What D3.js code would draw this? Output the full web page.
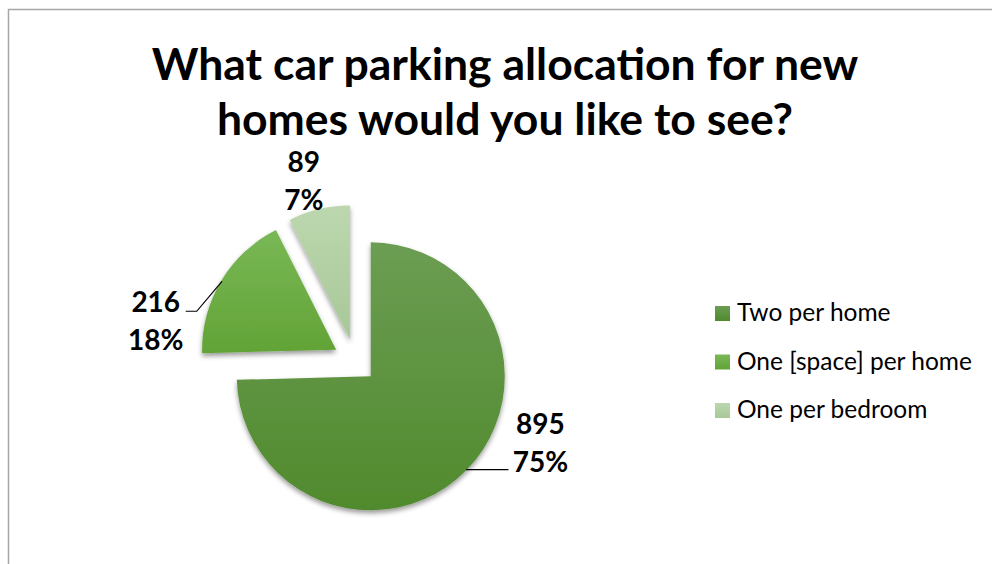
<!DOCTYPE html>
<html>
<head>
<meta charset="utf-8">
<script src="https://cdn.jsdelivr.net/npm/d3@7"></script>
<style>
  html, body { margin: 0; padding: 0; background: #fff; }
  svg { display: block; }
</style>
</head>
<body>
<svg id="chart" width="992" height="564"></svg>
<script>
// ---- data ----
const titleLines = ["What car parking allocation for new", "homes would you like to see?"];
const categories = ["Two per home", "One [space] per home", "One per bedroom"];
const values = [895, 216, 89];
const percentLabels = ["75%", "18%", "7%"];

// ---- style / layout ----
const colorsTop = ["#6c9d53", "#79b856", "#bcd7ae"];
const colorsBottom = ["#508a2d", "#62a336", "#a8c898"];
const fontFamily = "Lato, 'Open Sans', 'Noto Sans', sans-serif";
const W = 992, H = 564;
const cx = 355, cy = 361, R = 134, explode = 22;
// label placement: polar angle (deg) and radius from pie centre
const labelLayout = [
  { ang: 114, rad: 203, leader: true },
  { ang: 281, rad: 203, leader: true },
  { ang: 344, rad: 186, leader: false }
];

const svg = d3.select("#chart");

// chart area border
svg.append("rect")
  .attr("x", 8.5).attr("y", 9.5).attr("width", W + 20).attr("height", H + 20)
  .attr("fill", "none").attr("stroke", "#a6a6a6").attr("stroke-width", 1.5);

const defs = svg.append("defs");
const shadow = defs.append("filter").attr("id", "shadow")
  .attr("x", "-20%").attr("y", "-20%").attr("width", "140%").attr("height", "140%");
shadow.append("feDropShadow").attr("dx", 0).attr("dy", 3).attr("stdDeviation", 2.5)
  .attr("flood-color", "#000").attr("flood-opacity", 0.4);

categories.forEach((c, i) => {
  const g = defs.append("linearGradient").attr("id", "grad" + i)
    .attr("x1", 0).attr("y1", 0).attr("x2", 0).attr("y2", 1);
  g.append("stop").attr("offset", "0%").attr("stop-color", colorsTop[i]);
  g.append("stop").attr("offset", "100%").attr("stop-color", colorsBottom[i]);
});

// title
const title = svg.append("g");
titleLines.forEach((t, i) => {
  title.append("text")
    .attr("x", 505).attr("y", 80 + i * 55)
    .attr("text-anchor", "middle")
    .attr("font-family", fontFamily).attr("font-weight", 700)
    .attr("font-size", 44.5)
    .attr("fill", "#000")
    .text(t);
});

// pie
const pie = d3.pie().sort(null).startAngle(0).endAngle(2 * Math.PI);
const arcs = pie(values);
const arcGen = d3.arc().innerRadius(0).outerRadius(R);

const dir = a => [Math.sin(a), -Math.cos(a)];

const sliceG = svg.append("g").attr("transform", `translate(${cx},${cy})`);
sliceG.selectAll("path.slice")
  .data(arcs)
  .join("path")
  .attr("class", "slice")
  .attr("transform", d => {
    const m = (d.startAngle + d.endAngle) / 2;
    const [dx, dy] = dir(m);
    return `translate(${dx * explode},${dy * explode})`;
  })
  .attr("d", arcGen)
  .attr("fill", (d, i) => `url(#grad${i})`)
  .attr("filter", "url(#shadow)");

// data labels
const labG = svg.append("g").attr("transform", `translate(${cx},${cy})`);
arcs.forEach((d, i) => {
  const L = labelLayout[i];
  const a = L.ang * Math.PI / 180;
  const lx = Math.sin(a) * L.rad, ly = -Math.cos(a) * L.rad;
  const txt = labG.append("text")
    .attr("text-anchor", "middle")
    .attr("font-family", fontFamily).attr("font-weight", 700)
    .attr("font-size", 28).attr("fill", "#000");
  txt.append("tspan").attr("x", lx).attr("y", ly - 10).text(values[i]);
  txt.append("tspan").attr("x", lx).attr("y", ly + 28).text(percentLabels[i]);

  if (L.leader) {
    const m = (d.startAngle + d.endAngle) / 2;
    const [dx, dy] = dir(m);
    const sx = dx * (explode + R - 1), sy = dy * (explode + R - 1);
    let pts;
    if (lx > 0) {
      const ex = lx - 32, ey = ly + 26;
      pts = [[sx, ey], [ex, ey]];
    } else {
      const ex = lx + 30, ey = ly - 11;
      pts = [[sx, sy], [ex + 11, ey], [ex, ey]];
    }
    labG.append("path")
      .attr("d", d3.line()(pts))
      .attr("fill", "none").attr("stroke", "#000").attr("stroke-width", 1.2);
  }
});

// legend
const legend = svg.append("g").attr("transform", "translate(715,306)");
categories.forEach((c, i) => {
  const row = legend.append("g").attr("transform", `translate(0,${i * 48.5})`);
  row.append("rect").attr("width", 15).attr("height", 15)
    .attr("fill", `url(#grad${i})`);
  row.append("text")
    .attr("x", 22).attr("y", 15)
    .attr("font-family", fontFamily).attr("font-size", 24.5)
    .attr("fill", "#000")
    .text(c);
});
</script>
</body>
</html>
